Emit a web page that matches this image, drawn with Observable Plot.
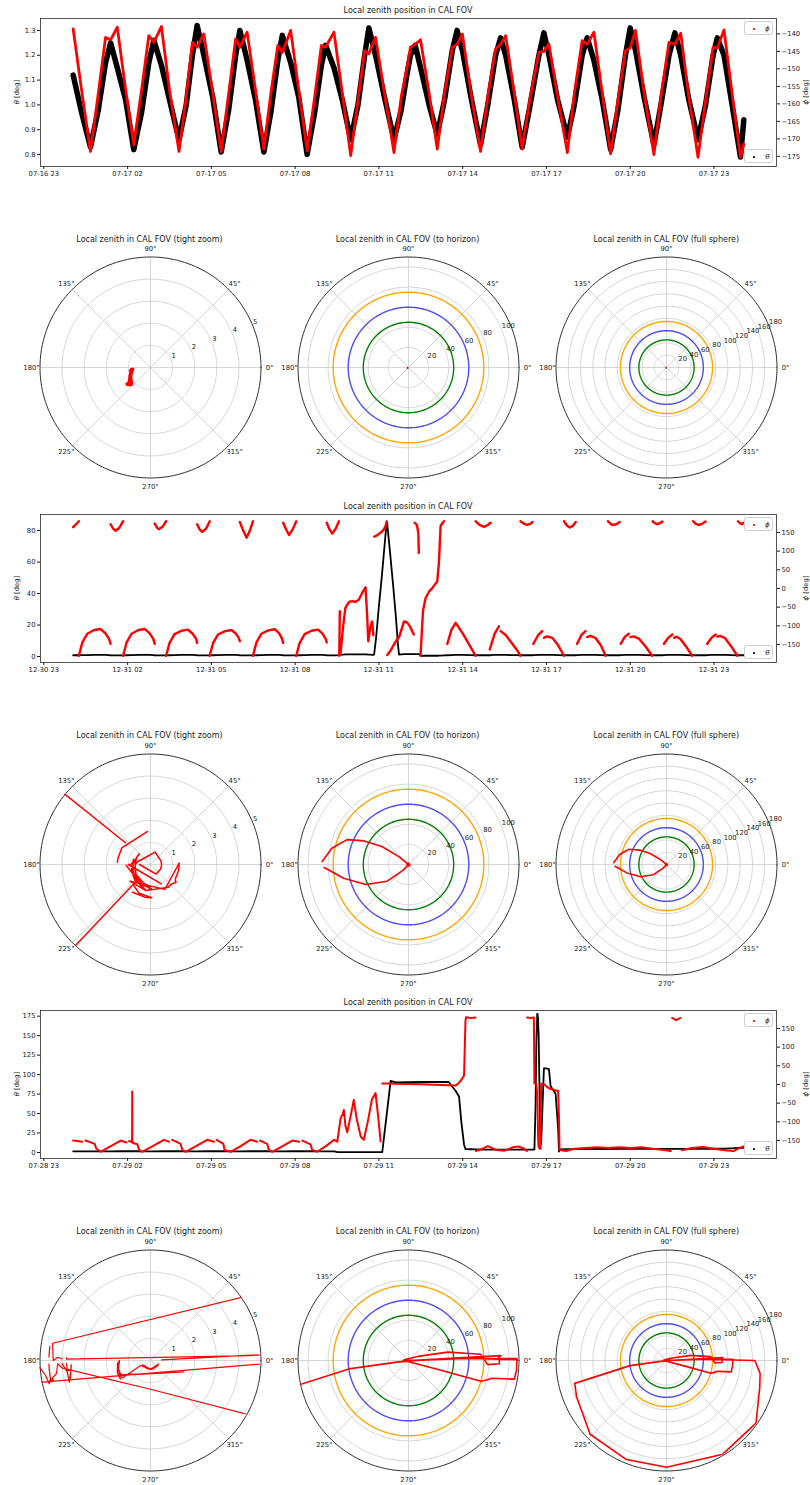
<!DOCTYPE html>
<html>
<head>
<meta charset="utf-8">
<script src="https://cdn.jsdelivr.net/npm/d3@7"></script>
<script src="https://cdn.jsdelivr.net/npm/@observablehq/plot@0.6"></script>
<style>
  html,body{margin:0;padding:0;background:#fff;}
  #fig{position:relative;width:810px;height:1485px;overflow:hidden;background:#fff;font-family:"DejaVu Sans",sans-serif;color:#1a1a1a;}
  #fig svg{position:absolute;max-width:none;}
  .txt{position:absolute;white-space:nowrap;line-height:1;transform:translate(-50%,-50%);}
  .legend{position:absolute;box-sizing:border-box;border:0.8px solid #cfcfcf;border-radius:2px;background:rgba(255,255,255,0.85);}
</style>
</head>
<body>
<div id="fig"></div>
<script>
// ---------------- DATA ----------------
// samples: [hours after 00:00 of the day, theta (deg), phi (deg, null = gap)]
const zenithJul17 = [
[0.05,1.12,-138.6],[0.35,0.97,-156],
[0.67,0.83,-173.6],[0.95,0.98,-157],[1.21,1.17,-141.0],[1.39,1.25,-141.7],[1.63,1.15,-138.1],[1.93,1.02,-156],
[2.22,0.82,-171.7],[2.50,0.97,-156],[2.76,1.17,-140.5],[2.94,1.26,-142.4],[3.21,1.16,-137.9],[3.50,1.02,-156],
[3.84,0.86,-173.6],[4.10,1.00,-158],[4.32,1.20,-142.4],[4.49,1.32,-143.8],[4.73,1.20,-140.0],[5.05,1.03,-157],
[5.35,0.81,-173.6],[5.62,0.98,-157],[5.87,1.20,-141.4],[6.02,1.30,-143.8],[6.28,1.18,-139.5],[6.58,1.02,-156],
[6.88,0.81,-172.9],[7.13,0.97,-157],[7.38,1.18,-143.3],[7.54,1.28,-145.3],[7.84,1.17,-139.0],[8.13,1.03,-156],
[8.43,0.80,-173.4],[8.70,0.97,-158],[8.94,1.16,-143.3],[9.09,1.24,-143.8],[9.39,1.15,-139.5],[9.69,1.02,-157],
[9.99,0.86,-174.8],[10.25,1.00,-159],[10.49,1.20,-144.8],[10.64,1.31,-145.7],[10.88,1.20,-141.0],[11.20,1.03,-157],
[11.54,0.86,-173.9],[11.80,0.98,-158],[12.00,1.12,-150],[12.13,1.20,-143.8],[12.30,1.24,-143.0],[12.49,1.15,-141.7],[12.80,1.00,-157],
[13.09,0.88,-172.9],[13.35,1.02,-157],[13.63,1.22,-143.8],[13.80,1.30,-143.0],[13.99,1.22,-140.0],[14.30,1.03,-157],
[14.64,0.84,-173.6],[14.90,1.00,-158],[15.18,1.20,-144.3],[15.36,1.27,-143.0],[15.54,1.20,-140.5],[15.85,1.02,-157],
[16.13,0.83,-172.9],[16.40,0.99,-159],[16.73,1.20,-145.3],[16.91,1.29,-145.0],[17.09,1.20,-142.9],[17.40,1.02,-158],
[17.75,0.87,-173.9],[18.00,1.00,-157],[18.28,1.20,-141.9],[18.46,1.27,-143.0],[18.70,1.18,-139.5],[19.00,1.02,-157],
[19.30,0.82,-174.3],[19.56,0.98,-159],[19.83,1.20,-144.8],[20.00,1.31,-144.0],[20.19,1.22,-139.0],[20.50,1.03,-157],
[20.85,0.84,-174.5],[21.10,1.00,-158],[21.39,1.20,-142.4],[21.60,1.29,-143.0],[21.81,1.20,-139.8],[22.10,1.02,-158],
[22.43,0.86,-175.3],[22.70,1.00,-159],[22.97,1.20,-143.8],[23.12,1.27,-144.0],[23.36,1.20,-138.9],[23.65,1.00,-157],
[23.95,0.79,-175.3],[24.07,0.94,-171.5]
];

const zenithDec31 = [
[0.05,0.8,164],[0.18,0.8,174],[0.255,0.8,180],[0.255,0.8,null],
[0.255,0.8,-180],[0.375,0.9,-145],[0.555,0.9,-121],[0.805,1.0,-111],[1.035,1.1,-108.5],[1.205,1.0,-120],[1.335,0.9,-135],[1.39,0.8,-148],[1.39,0.8,null],
[1.39,0.8,172],[1.48,0.7,160],[1.57,0.7,154.4],[1.70,0.7,162],[1.84,0.7,180],[1.84,0.7,null],
[1.84,0.7,-180],[1.96,0.8,-145],[2.14,0.9,-121],[2.39,1.0,-111],[2.62,1.1,-108.5],[2.79,1.0,-120],[2.92,0.9,-135],[2.97,0.8,-148],[2.97,0.8,null],
[2.97,0.8,174],[3.05,0.7,163],[3.12,0.7,158.8],[3.25,0.7,165],[3.38,0.7,180],[3.38,0.7,null],
[3.38,0.7,-180],[3.50,0.8,-146],[3.68,0.9,-122],[3.93,1.0,-113],[4.16,1.1,-110],[4.33,1.0,-121],[4.45,0.9,-134],[4.49,0.8,-145.5],[4.49,0.8,null],
[4.49,0.8,172],[4.58,0.7,158],[4.67,0.7,151.8],[4.81,0.7,160],[4.94,0.7,180],[4.94,0.7,null],
[4.94,0.7,-180],[5.06,0.8,-146],[5.24,0.9,-123],[5.49,1.0,-114],[5.72,1.1,-111],[5.88,1.0,-121],[5.98,0.9,-132],[6.02,0.8,-141],[6.02,0.8,null],
[6.02,0.8,178],[6.14,0.7,155],[6.26,0.7,136],[6.38,0.7,155],[6.49,0.7,180],[6.49,0.7,null],
[6.49,0.7,-180],[6.61,0.8,-145],[6.79,0.9,-121],[7.04,1.0,-112],[7.27,1.1,-109],[7.43,1.0,-120],[7.53,0.9,-134],[7.57,0.8,-145.5],[7.57,0.8,null],
[7.57,0.8,176],[7.68,0.7,158],[7.78,0.7,143],[7.91,0.7,158],[8.04,0.7,180],[8.04,0.7,null],
[8.04,0.7,-180],[8.16,0.8,-146],[8.34,0.9,-122],[8.59,1.0,-113],[8.82,1.1,-110],[8.98,1.0,-121],[9.09,0.9,-134],[9.13,0.8,-144],[9.13,0.8,null],
[9.13,0.8,176],[9.23,0.7,158],[9.33,0.7,147],[9.45,0.7,160],[9.57,0.9,180],[9.57,0.9,null],
[9.58,1.0,-180],[9.60,1.0,-61],[9.61,1.0,null],
[9.62,1.1,-178],[9.72,1.2,-100],[9.80,1.3,-52],[9.87,1.3,-43],[9.95,1.4,-35],[10.05,1.4,-34],[10.15,1.4,-36],[10.28,1.3,-30],[10.40,1.3,-12],[10.52,1.3,3],[10.57,1.3,-60],[10.62,1.2,-141],[10.70,1.2,-100],[10.76,1.1,-88],[10.80,1.0,-125],[10.81,1.0,null],
[10.83,1.5,139],[10.90,12,141],[11.00,32,146],[11.10,50,152],[11.18,66,158],[11.24,78,168],[11.28,86,178],[11.28,86,null],
[11.30,84,-178],[11.40,66,-168],[11.50,47,-155],[11.60,27,-142],[11.68,8,-133],[11.72,1.2,-131],[11.80,1.4,-112],[11.90,1.5,-88],[12.00,1.5,-90],[12.10,1.5,-100],[12.25,1.5,-123],[12.26,1.5,null],
[12.28,1.5,176],[12.36,1.5,170],[12.41,1.5,150],[12.43,1.5,95],[12.44,1.5,null],
[12.49,0.5,-180],[12.58,0.5,-60],[12.67,0.5,-26],[12.80,0.5,-8],[12.91,0.5,1],[13.09,0.5,19],[13.15,0.6,70],[13.21,0.6,168],[13.33,0.7,180],[13.34,0.7,null],
[13.45,0.8,-148],[13.60,0.9,-110],[13.75,1.0,-92],[14.00,1.0,-120],[14.25,0.9,-152],[14.46,0.8,-180],[14.46,0.8,null],
[14.46,0.8,180],[14.60,0.8,170],[14.76,0.8,165],[14.90,0.8,170],[15.00,0.8,176],[15.00,0.8,null],
[14.97,0.9,-163],[15.15,1.0,-120],[15.30,1.0,-101],[15.31,1.0,null],[15.36,1.0,-114],[15.55,1.0,-125],[15.75,0.9,-145],[15.95,0.9,-165],[16.07,0.8,-180],[16.07,0.8,null],
[16.07,0.8,180],[16.20,0.8,173],[16.31,0.8,170],[16.42,0.8,173],[16.50,0.8,178],[16.50,0.8,null],
[16.53,0.9,-148],[16.70,1.0,-125],[16.85,1.0,-114],[16.86,1.0,null],[16.91,1.0,-132],[17.02,1.0,-128],[17.21,1.0,-132],[17.42,0.9,-152],[17.63,0.8,-180],[17.63,0.8,null],
[17.63,0.8,180],[17.74,0.8,168],[17.84,0.8,163],[17.95,0.8,168],[18.05,0.8,178],[18.05,0.8,null],
[18.10,0.9,-148],[18.25,1.0,-125],[18.40,1.0,-114],[18.41,1.0,null],[18.46,1.0,-130],[18.57,1.0,-127],[18.75,1.0,-132],[18.95,0.9,-152],[19.12,0.8,-180],[19.12,0.8,null],
[19.20,0.8,180],[19.31,0.8,172],[19.42,0.8,170],[19.53,0.8,173],[19.62,0.8,178],[19.62,0.8,null],
[19.66,0.9,-148],[19.80,1.0,-130],[19.95,1.0,-121],[19.96,1.0,null],[20.01,1.0,-130],[20.12,1.0,-128],[20.31,1.0,-134],[20.55,0.9,-155],[20.79,0.8,-180],[20.79,0.8,null],
[20.80,0.8,180],[20.88,0.8,175],[20.97,0.8,172],[21.06,0.8,175],[21.15,0.8,179],[21.15,0.8,null],
[21.21,0.9,-148],[21.36,1.0,-132],[21.51,1.0,-123],[21.52,1.0,null],[21.57,1.0,-132],[21.66,1.0,-129],[21.80,1.0,-135],[22.00,0.9,-155],[22.22,0.8,-180],[22.22,0.8,null],
[22.25,0.8,180],[22.35,0.8,173],[22.46,0.8,170],[22.58,0.8,173],[22.70,0.8,179],[22.70,0.8,null],
[22.76,0.9,-148],[22.91,1.0,-132],[23.06,1.0,-123],[23.07,1.0,null],[23.12,1.0,-129],[23.22,1.0,-127],[23.40,1.0,-133],[23.62,0.9,-155],[23.84,0.8,-180],[23.84,0.8,null],
[23.86,0.8,180],[23.94,0.8,174],[24.01,0.8,172],[24.07,0.8,176]
];

const zenithJul29 = [
[0.05,1.5,-150],[0.20,1.5,-151],[0.37,1.5,-153],[0.37,1.5,null],
[0.49,1.5,-150],[0.65,1.5,-154],[0.82,1.5,-159],[0.88,1.5,-172],[1.03,1.4,-180],
[1.40,1.5,-165],[1.75,1.6,-150],[1.96,1.6,-155],[1.96,1.6,null],
[2.05,1.6,-151],[2.16,1.6,-155],[2.165,1.6,-19],[2.17,1.6,-156],[2.35,1.6,-160],[2.41,1.5,-175],[2.52,1.4,-180],
[2.90,1.5,-165],[3.30,1.6,-148],[3.48,1.6,-153],[3.48,1.6,null],
[3.60,1.6,-148],[3.90,1.6,-159],[3.96,1.5,-175],[4.08,1.4,-180],
[4.45,1.5,-165],[4.85,1.6,-148],[5.09,1.6,-153],[5.09,1.6,null],
[5.19,1.6,-148],[5.43,1.6,-159],[5.47,1.5,-175],[5.69,1.4,-180],
[6.05,1.5,-165],[6.40,1.6,-148],[6.64,1.6,-153],[6.64,1.6,null],
[6.74,1.6,-150],[7.00,1.6,-159],[7.06,1.5,-175],[7.18,1.4,-180],
[7.55,1.5,-165],[7.90,1.6,-150],[8.14,1.6,-153],[8.14,1.6,null],
[8.26,1.6,-150],[8.55,1.6,-160],[8.61,1.5,-175],[8.79,1.4,-180],
[9.10,1.5,-165],[9.40,1.5,-148],
[9.51,0.5,-153],[9.63,0.4,-90],[9.70,0.4,-80],[9.745,0.4,-68],[9.80,0.4,-110],[9.865,0.4,-128],[10.00,0.4,-80],[10.10,0.4,-41],[10.20,0.4,-90],[10.35,0.4,-140],[10.46,0.4,-148],[10.60,0.4,-100],[10.75,0.4,-40],[10.88,0.4,-23],[10.98,0.4,-90],[11.06,0.4,-152],[11.08,0.4,null],
[11.12,0.5,3],[11.20,25,3],[11.30,55,3],[11.42,92,3],[11.60,90,2],[12.50,90.5,1],[13.50,90.5,-2],[13.75,79,-3],[13.87,72,5],[13.95,40,12],[14.05,10,24],[14.10,4.5,170],[14.12,4.4,180],[14.30,4.2,178],[14.46,4.0,179],[14.46,4.0,null],
[14.47,4.0,-178],[14.70,3.8,-172],[14.90,3.8,-165],[15.20,3.6,-175],[15.50,3.6,-177],[15.80,3.7,-168],[16.00,3.8,-166],[16.20,3.8,-172],[16.30,3.8,-178],[16.30,3.8,null],
[16.31,3.8,179],[16.45,3.8,178],[16.55,3.8,179],[16.57,4,3],[16.61,60,2],[16.64,144,0],[16.65,154,-8],[16.66,158,-16],[16.67,178,-35],[16.68,178,-59],[16.69,174,-90],[16.695,174,-112],[16.70,173,-136],[16.71,158,-158],[16.72,154,-166],[16.76,60,-172],[16.79,10,-172],
[16.81,12,2],[16.85,50,2],[16.91,108,1],[17.00,108,-5],[17.09,107,-10],[17.15,85,-12],[17.25,80,-14],[17.33,75,-16],[17.42,30,-17],[17.45,1.3,-90],[17.47,4,-175],
[17.70,4.2,-178],[18.00,4.3,-172],[18.40,4.5,-170],[18.80,4.5,-168],[19.20,4.5,-170],[19.60,4.6,-168],[20.00,4.6,-170],[20.40,4.6,-168],[20.80,4.6,-172],[21.20,4.6,-175],[21.45,4.6,-178],[21.45,4.6,null],
[21.50,4.6,178],[21.65,4.6,172],[21.80,4.6,178],[21.80,4.6,null],
[21.85,4.6,-176],[22.20,4.6,-170],[22.60,4.7,-167],[23.00,4.8,-172],[23.40,5.0,-176],[23.70,5.5,-178],[23.90,6.0,-170],[24.07,6.0,-166]
];

// axis ticks / labels
const tickHours = [-1, 2, 5, 8, 11, 14, 17, 20, 23];
const xLabelsJul17 = ["07-16 23","07-17 02","07-17 05","07-17 08","07-17 11","07-17 14","07-17 17","07-17 20","07-17 23"];
const xLabelsDec31 = ["12-30 23","12-31 02","12-31 05","12-31 08","12-31 11","12-31 14","12-31 17","12-31 20","12-31 23"];
const xLabelsJul29 = ["07-28 23","07-29 02","07-29 05","07-29 08","07-29 11","07-29 14","07-29 17","07-29 20","07-29 23"];
const thetaTicksJul17 = [0.8, 0.9, 1.0, 1.1, 1.2, 1.3];
const phiTicksJul17 = [-175, -170, -165, -160, -155, -150, -145, -140];
const thetaTicksDec31 = [0, 20, 40, 60, 80];
const thetaTicksJul29 = [0, 25, 50, 75, 100, 125, 150, 175];
const phiTicksWide = [-150, -100, -50, 0, 50, 100, 150];
const angleTicks = [0, 45, 90, 135, 180, 225, 270, 315];
const angleLabels = ["0°","45°","90°","135°","180°","225°","270°","315°"];
const fovRadii = [75, 60, 45];
const fovColors = ["#ffa500", "#4d4dff", "#008000"];

// ---------------- DRAWING ----------------
const fig = document.getElementById("fig");
const FONT = "'DejaVu Sans', sans-serif";
const rad = a => a * Math.PI / 180;
const signed = d => (d < 0 ? "\u2212" + (-d) : String(d));
const num = v => (v == null ? NaN : v);

function addText(html, x, y, size, rotate) {
  const el = document.createElement("div");
  el.className = "txt";
  el.style.left = x + "px"; el.style.top = y + "px"; el.style.fontSize = size + "px";
  if (rotate) el.style.transform = `translate(-50%,-50%) rotate(${rotate}deg)`;
  el.innerHTML = html;
  fig.appendChild(el);
}
function placeSvg(svg, left, top) {
  svg.style.left = left + "px"; svg.style.top = top + "px";
  fig.appendChild(svg);
}
function addLegend(left, top, color, symbolHtml) {
  const box = document.createElement("div");
  box.className = "legend";
  Object.assign(box.style, {left: left + "px", top: top + "px", width: "29px", height: "14.5px"});
  const dot = document.createElement("div");
  Object.assign(dot.style, {position: "absolute", left: "8px", top: "6.3px", width: "1.6px", height: "1.6px", borderRadius: "50%", background: color});
  box.appendChild(dot);
  const lab = document.createElement("div");
  lab.className = "txt"; lab.style.left = "22px"; lab.style.top = "7px"; lab.style.fontSize = "7px";
  lab.innerHTML = symbolHtml;
  box.appendChild(lab);
  fig.appendChild(box);
}

const hourDomain = [-1.12, 25.24];
const TS_W = 810, TS_ML = 40, TS_MR = 34, TS_MT = 18, TS_FH = 148, TS_MB = 16;
const TS_H = TS_MT + TS_FH + TS_MB;

function timeSeries(p) {
  const toDate = h => new Date(p.base + h * 3600e3);
  const xDomain = hourDomain.map(toDate);
  const xTicks = tickHours.map(toDate);
  const tickText = new Map(xTicks.map((d, i) => [+d, p.xLabels[i]]));
  const common = {
    width: TS_W, height: TS_H, marginLeft: TS_ML, marginRight: TS_MR, marginTop: TS_MT, marginBottom: TS_MB,
    style: {background: "transparent", fontFamily: FONT, fontSize: "6.8px", color: "#1a1a1a", overflow: "visible"}
  };
  const X = d => toDate(d[0]);
  const thetaSvg = Plot.plot({
    ...common,
    x: {type: "utc", domain: xDomain},
    y: {domain: p.thetaDomain},
    marks: [
      Plot.line(p.data, {x: X, y: d => num(d[1]), stroke: "#000", strokeWidth: p.blackW, strokeLinejoin: "round", clip: true}),
      Plot.frame({stroke: "#2a2a2a", strokeWidth: 0.8}),
      Plot.axisX({ticks: xTicks, tickFormat: d => tickText.get(+d), tickSize: 3, tickPadding: 1.5, label: null, fontSize: 6.8}),
      Plot.axisY({ticks: p.thetaTicks, tickFormat: p.thetaFmt, tickSize: 3, tickPadding: 2, label: null, fontSize: 6.8})
    ]
  });
  const phiSvg = Plot.plot({
    ...common,
    x: {type: "utc", domain: xDomain, axis: null},
    y: {domain: p.phiDomain},
    marks: [
      Plot.line(p.data, {x: X, y: d => num(d[2]), stroke: "#ff0000", strokeWidth: p.redW, strokeLinejoin: "round", clip: true}),
      Plot.axisY({anchor: "right", ticks: p.phiTicks, tickFormat: signed, tickSize: 3, tickPadding: 2, label: null, fontSize: 6.8})
    ]
  });
  placeSvg(thetaSvg, 0, p.top);
  placeSvg(phiSvg, 0, p.top);
  const fTop = p.top + TS_MT, fBot = fTop + TS_FH;
  addText("Local zenith position in CAL FOV", (TS_ML + TS_W - TS_MR) / 2, fTop - 7.5, 8);
  addText("<i>θ</i> [deg]", 16.7, (fTop + fBot) / 2, 6.8, -90);
  addText("<i>ϕ</i> [deg]", 806.3, (fTop + fBot) / 2, 6.8, -90);
  addLegend(744.3, fTop + 2.7, "#ff0000", "<i>ϕ</i>");
  addLegend(744.3, fBot - 2.7 - 14.5, "#000", "<i>θ</i>");
}

const P_SIZE = 264, P_HALF = 132, P_RPX = 110.5;
function polar(p) {
  const R = p.R;
  const px = (r, a) => r * Math.cos(rad(a));
  const py = (r, a) => r * Math.sin(rad(a));
  const circle = r => d3.range(0, 361, 2).map(a => ({r, a}));
  const labR = R * 119 / P_RPX;
  const scales = {
    width: P_SIZE, height: P_SIZE, margin: 0,
    x: {domain: [-R, R], range: [P_HALF - P_RPX, P_HALF + P_RPX], axis: null},
    y: {domain: [-R, R], range: [P_HALF + P_RPX, P_HALF - P_RPX], axis: null},
    style: {background: "transparent", fontFamily: FONT, fontSize: "6.8px", color: "#1a1a1a", overflow: "visible"}
  };
  const gridMarks = [
    Plot.line(p.rings.flatMap(circle), {x: d => px(d.r, d.a), y: d => py(d.r, d.a), z: "r", stroke: "#cccccc", strokeWidth: 0.8}),
    Plot.link(angleTicks, {x1: () => 0, y1: () => 0, x2: a => px(R, a), y2: a => py(R, a), stroke: "#cccccc", strokeWidth: 0.8})
  ];
  if (p.fov) {
    fovRadii.forEach((r, i) => gridMarks.push(Plot.line(circle(r), {x: d => px(d.r, d.a), y: d => py(d.r, d.a), stroke: fovColors[i], strokeWidth: 1.4})));
  }
  gridMarks.push(Plot.line(circle(R), {x: d => px(d.r, d.a), y: d => py(d.r, d.a), stroke: "#1a1a1a", strokeWidth: 0.9}));
  gridMarks.push(Plot.text(angleTicks, {x: a => px(labR, a), y: a => py(labR, a), text: (a, i) => angleLabels[i], fontSize: 6.8}));
  gridMarks.push(Plot.text(p.radialTicks, {x: r => px(r, 22.5), y: r => py(r, 22.5), text: r => String(r), textAnchor: "start", dx: 0.5, dy: -3.5, fontSize: 6.8}));
  const gridSvg = Plot.plot({...scales, marks: gridMarks});
  placeSvg(gridSvg, p.cx - P_HALF, p.cy - P_HALF);

  const dataSvg = Plot.plot({...scales, marks: [
    Plot.line(p.data, {
      x: d => (d[2] == null ? NaN : px(d[1], d[2])),
      y: d => (d[2] == null ? NaN : py(d[1], d[2])),
      stroke: "#ff0000", strokeWidth: p.dataW, strokeLinejoin: "round"
    })
  ]});
  dataSvg.style.clipPath = `circle(${P_RPX}px at ${P_HALF}px ${P_HALF}px)`;
  dataSvg.style.overflow = "hidden";
  placeSvg(dataSvg, p.cx - P_HALF, p.cy - P_HALF);
  addText(p.title, p.cx, p.titleY, 8);
}

const panels = [
  {top: 0, base: Date.UTC(2016, 6, 17), data: zenithJul17, xLabels: xLabelsJul17,
   thetaDomain: [0.752, 1.348], thetaTicks: thetaTicksJul17, thetaFmt: d => d.toFixed(1),
   phiDomain: [-177.9, -135.6], phiTicks: phiTicksJul17, blackW: 5.5, redW: 2.8,
   polarY: 366.7, polarTitleY: 240, tightW: 2.6, wideW: 1.5},
  {top: 496, base: Date.UTC(2016, 11, 31), data: zenithDec31, xLabels: xLabelsDec31,
   thetaDomain: [-3.8, 90.2], thetaTicks: thetaTicksDec31, thetaFmt: d => String(d),
   phiDomain: [-198, 198], phiTicks: phiTicksWide, blackW: 1.8, redW: 2.4,
   polarY: 864.3, polarTitleY: 736, tightW: 1.5, wideW: 1.6},
  {top: 992, base: Date.UTC(2017, 6, 29), data: zenithJul29, xLabels: xLabelsJul29,
   thetaDomain: [-7.7, 182.3], thetaTicks: thetaTicksJul29, thetaFmt: d => String(d),
   phiDomain: [-198, 198], phiTicks: phiTicksWide, blackW: 1.8, redW: 2.0,
   polarY: 1359.5, polarTitleY: 1232, tightW: 1.2, wideW: 1.6}
];

for (const p of panels) {
  timeSeries(p);
  polar({cx: 149.5, cy: p.polarY, titleY: p.polarTitleY, R: 5, rings: [1, 2, 3, 4], radialTicks: [1, 2, 3, 4, 5],
         fov: false, data: p.data, dataW: p.tightW, title: "Local zenith in CAL FOV (tight zoom)"});
  polar({cx: 407.5, cy: p.polarY, titleY: p.polarTitleY, R: 110, rings: [20, 40, 60, 80, 100], radialTicks: [20, 40, 60, 80, 100],
         fov: true, data: p.data, dataW: p.wideW, title: "Local zenith in CAL FOV (to horizon)"});
  polar({cx: 666.3, cy: p.polarY, titleY: p.polarTitleY, R: 180, rings: [20, 40, 60, 80, 100, 120, 140, 160], radialTicks: [20, 40, 60, 80, 100, 120, 140, 160, 180],
         fov: true, data: p.data, dataW: p.wideW, title: "Local zenith in CAL FOV (full sphere)"});
}
</script>
</body>
</html>
